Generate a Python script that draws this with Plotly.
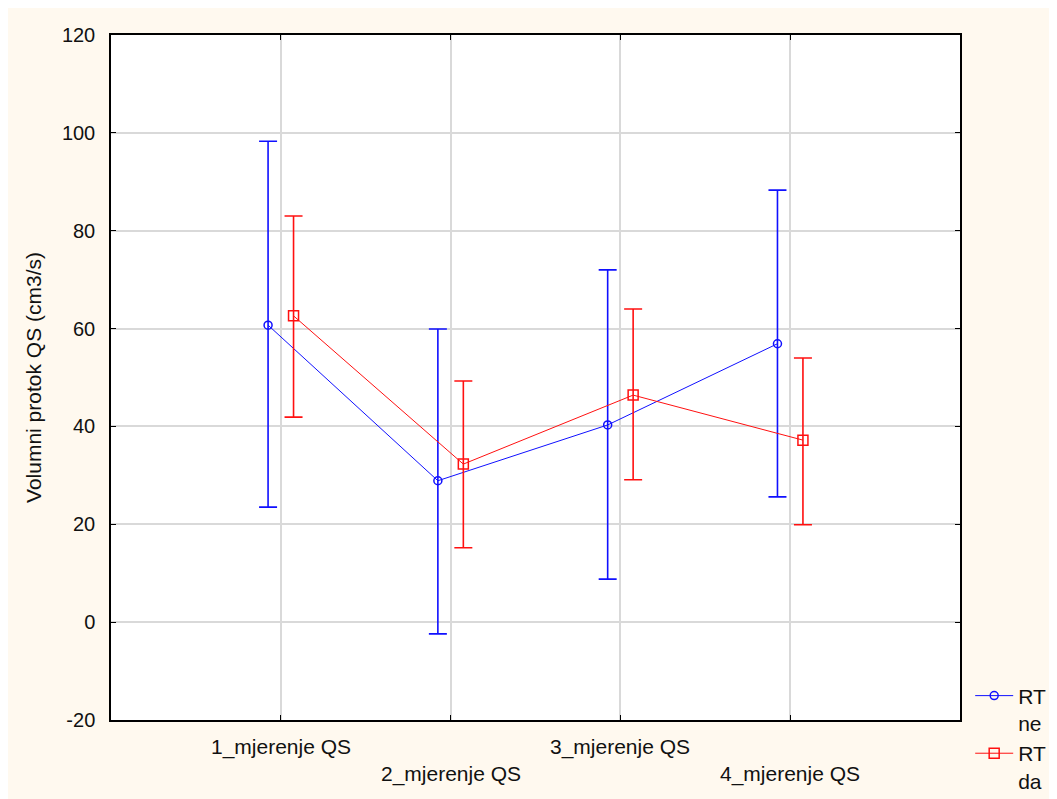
import plotly.graph_objects as go

categories = ["1_mjerenje QS", "2_mjerenje QS", "3_mjerenje QS", "4_mjerenje QS"]
ne_mean = [60.7, 28.9, 40.3, 56.9]
ne_upper = [98.3, 59.9, 72.0, 88.3]
ne_lower = [23.5, -2.4, 8.8, 25.6]
da_mean = [62.6, 32.3, 46.4, 37.2]
da_upper = [83.0, 49.3, 64.0, 54.0]
da_lower = [41.9, 15.2, 29.1, 19.9]
y_ticks = [-20, 0, 20, 40, 60, 80, 100, 120]
y_tick_text = ["-20", "0", "20", "40", "60", "80", "100", "120"]

FONT = "Liberation Sans, Arial, sans-serif"
TXT = "#111111"
idx = list(range(len(categories)))
off = 0.075

fig = go.Figure()
series = [
    ("RT<br>ne", ne_mean, ne_upper, ne_lower, "#1010FF", "circle-open", 8, -off),
    ("RT<br>da", da_mean, da_upper, da_lower, "#FF1010", "square-open", 10, off),
]
for name, m, up, lo, col, sym, sz, dx in series:
    fig.add_trace(go.Scatter(
        x=[i + dx for i in idx], y=m, name=name, mode="lines+markers",
        line=dict(color=col, width=1),
        marker=dict(symbol=sym, size=sz, color=col, line=dict(color=col, width=1.5)),
        error_y=dict(type="data", symmetric=False,
                     array=[u - v for u, v in zip(up, m)],
                     arrayminus=[v - l for v, l in zip(m, lo)],
                     color=col, thickness=1.6, width=9),
    ))

for i, c in enumerate(categories):
    fig.add_annotation(x=i, y=-0.019 if i % 2 == 0 else -0.058, xref="x", yref="paper",
                       text=c, showarrow=False, yanchor="top",
                       font=dict(family=FONT, size=21, color=TXT))

fig.update_layout(
    width=1049, height=791,
    margin=dict(l=103, r=97, t=27, b=79, autoexpand=False),
    paper_bgcolor="#FFF9EF", plot_bgcolor="white",
    font=dict(family=FONT, size=20, color=TXT),
    showlegend=True,
    legend=dict(x=1.012, y=0.065, xanchor="left", yanchor="top", valign="top",
                bgcolor="rgba(0,0,0,0)", font=dict(size=21), tracegroupgap=4,
                itemwidth=38),
    xaxis=dict(range=[-1, 4], tickvals=idx, showticklabels=False,
               ticks="inside", ticklen=5, tickcolor="black", automargin=False,
               showgrid=True, gridcolor="#D9D9D9", gridwidth=1.5,
               showline=True, linecolor="black", linewidth=1.5, mirror="ticks",
               zeroline=False),
    yaxis=dict(range=[-20, 120], tickvals=y_ticks, ticktext=y_tick_text,
               ticks="inside", ticklen=5, automargin=False,
               tickcolor="black", ticklabelstandoff=10,
               showgrid=True, gridcolor="#D9D9D9", gridwidth=1.5,
               showline=True, linecolor="black", linewidth=1.5, mirror="ticks",
               zeroline=False,
               title=dict(text="Volumni protok QS (cm3/s)", standoff=15,
                          font=dict(size=21))),
)

fig.write_html("out.html")
